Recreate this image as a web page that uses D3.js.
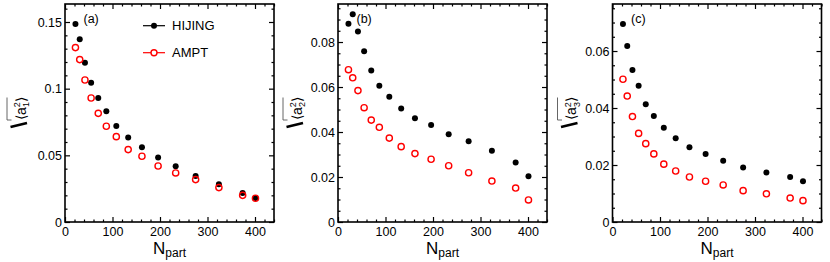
<!DOCTYPE html>
<html><head><meta charset="utf-8">
<script src="https://cdn.jsdelivr.net/npm/d3@7"></script>
<style>body{margin:0;background:#fff}svg{display:block}text{font-family:"Liberation Sans",Arial,sans-serif}</style>
</head><body><svg id="c" width="830" height="262"></svg>
<script>
const npart = [22, 31, 42, 55, 70, 87, 108, 133, 162, 196, 233, 275, 324, 374, 401];
const hijingA = [0.1485,0.137,0.1195,0.1045,0.093,0.083,0.072,0.0633,0.056,0.0483,0.0418,0.0345,0.0283,0.0218,0.018];
const amptA   = [0.1308,0.1218,0.1065,0.093,0.0815,0.0718,0.064,0.0543,0.0493,0.042,0.0368,0.0318,0.0258,0.02,0.0178];
const hijingB = [0.0881,0.0923,0.0847,0.0759,0.0673,0.0606,0.0557,0.0505,0.0461,0.0431,0.039,0.0359,0.0317,0.0265,0.0203];
const amptB   = [0.0677,0.0641,0.0584,0.0508,0.0453,0.0421,0.0373,0.0335,0.0304,0.0279,0.025,0.0219,0.0182,0.0151,0.0098];
const hijingC = [0.0695,0.0618,0.0533,0.0478,0.0413,0.0372,0.0331,0.0294,0.0262,0.0239,0.0215,0.0191,0.0174,0.0158,0.0143];
const amptC   = [0.0501,0.0442,0.037,0.0311,0.0275,0.0239,0.0203,0.0179,0.0158,0.0143,0.013,0.011,0.0099,0.0084,0.0075];
const xMajor = [0,100,200,300,400];
const panelLabels = ["(a)","(b)","(c)"];
const yIndex = ["1","2","3"];
const seriesNames = ["HIJING","AMPT"];

const panels = [
  {left:65, right:274, ymax:0.1635, major:d3.range(0,0.1501,0.05), minorStep:0.01, h:hijingA, a:amptA, lab:-58},
  {left:338, right:547, ymax:0.0969, major:d3.range(0,0.0801,0.02), minorStep:0.005, h:hijingB, a:amptB, lab:-55},
  {left:612.5, right:821.5, ymax:0.0765, major:d3.range(0,0.0601,0.02), minorStep:0.005, h:hijingC, a:amptC, lab:-55}
];
const plotTop = 4, plotBottom = 222;
const svg = d3.select("#c");
const fmt = d => d === 0 ? "0" : String(+d.toFixed(3));

panels.forEach((p, i) => {
  const x = d3.scaleLinear().domain([0,440]).range([p.left, p.right]);
  const y = d3.scaleLinear().domain([0,p.ymax]).range([plotBottom, plotTop]);
  const g = svg.append("g");
  const xMinor = d3.range(0,441,20).filter(v => v % 100 !== 0);
  const yMinor = d3.range(0,p.ymax,p.minorStep).filter(v => !p.major.some(m => Math.abs(m-v)<1e-9));
  const style = sel => { sel.select(".domain").remove(); sel.selectAll("line").attr("stroke","#000").attr("stroke-width",1.2); sel.selectAll("text").attr("font-size","12.5px").attr("fill","#000").attr("font-family","Liberation Sans, Arial, sans-serif"); };
  g.append("g").attr("transform",`translate(0,${plotBottom})`).call(d3.axisBottom(x).tickValues(xMajor).tickSize(-5).tickPadding(5).tickFormat(d3.format("d"))).call(style);
  g.append("g").attr("transform",`translate(0,${plotBottom})`).call(d3.axisBottom(x).tickValues(xMinor).tickSize(-2.5).tickFormat("")).call(style);
  g.append("g").attr("transform",`translate(0,${plotTop})`).call(d3.axisTop(x).tickValues(xMajor).tickSize(-5).tickFormat("")).call(style);
  g.append("g").attr("transform",`translate(0,${plotTop})`).call(d3.axisTop(x).tickValues(xMinor).tickSize(-2.5).tickFormat("")).call(style);
  g.append("g").attr("transform",`translate(${p.left},0)`).call(d3.axisLeft(y).tickValues(p.major).tickSize(-5).tickPadding(3).tickFormat(fmt)).call(style);
  g.append("g").attr("transform",`translate(${p.left},0)`).call(d3.axisLeft(y).tickValues(yMinor).tickSize(-2.5).tickFormat("")).call(style);
  g.append("g").attr("transform",`translate(${p.right},0)`).call(d3.axisRight(y).tickValues(p.major).tickSize(-5).tickFormat("")).call(style);
  g.append("g").attr("transform",`translate(${p.right},0)`).call(d3.axisRight(y).tickValues(yMinor).tickSize(-2.5).tickFormat("")).call(style);
  g.append("rect").attr("x",p.left).attr("y",plotTop).attr("width",p.right-p.left).attr("height",plotBottom-plotTop)
    .attr("fill","none").attr("stroke","#000").attr("stroke-width",1.6);
  g.selectAll("circle.h").data(npart).join("circle").attr("class","h")
    .attr("cx",d=>x(d)).attr("cy",(d,k)=>y(p.h[k])).attr("r",3).attr("fill","#000");
  g.selectAll("circle.a").data(npart).join("circle").attr("class","a")
    .attr("cx",d=>x(d)).attr("cy",(d,k)=>y(p.a[k])).attr("r",3.1).attr("fill","none").attr("stroke","#f00").attr("stroke-width",1.4);
  g.append("text").attr("x",p.left+18.5).attr("y",23).attr("font-size","12.5px").text(panelLabels[i]);
  const xl = g.append("text").attr("x",(p.left+p.right)/2).attr("y",253.5).attr("text-anchor","middle").attr("font-size","17px");
  xl.append("tspan").text("N");
  xl.append("tspan").attr("font-size","12px").attr("dy",3).text("part");
  const lx = p.left + p.lab;
  g.append("path").attr("d",`M${lx},97.5 L${lx},120 L${lx+4.5},120`).attr("fill","none").attr("stroke","#555").attr("stroke-width",0.9);
  g.append("path").attr("d",`M${lx+3.5},127 L${lx+20},123`).attr("fill","none").attr("stroke","#000").attr("stroke-width",2.6);
  const yl = g.append("text").attr("transform",`translate(${lx+18.5},108.5) rotate(-90)`).attr("text-anchor","middle").attr("font-size","14px");
  yl.append("tspan").text("\u27E8a");
  yl.append("tspan").attr("font-size","9px").attr("dy",-5.5).text("2");
  yl.append("tspan").attr("font-size","9px").attr("dx",-5).attr("dy",9).text(yIndex[i]);
  yl.append("tspan").attr("dy",-3.5).text("\u27E9");
});

const leg = svg.append("g");
const legY = [25.7, 52.7];
const legCol = ["#000","#f00"];
seriesNames.forEach((s,k) => {
  leg.append("line").attr("x1",143).attr("x2",165).attr("y1",legY[k]).attr("y2",legY[k]).attr("stroke",legCol[k]).attr("stroke-width",1.2);
  leg.append("circle").attr("cx",154).attr("cy",legY[k]).attr("r",3)
    .attr("fill",k===0?"#000":"#fff").attr("stroke",legCol[k]).attr("stroke-width",k===0?0:1.4);
  leg.append("text").attr("x",172).attr("y",legY[k]+4.7).attr("font-size","13px").text(s);
});
</script></body></html>
